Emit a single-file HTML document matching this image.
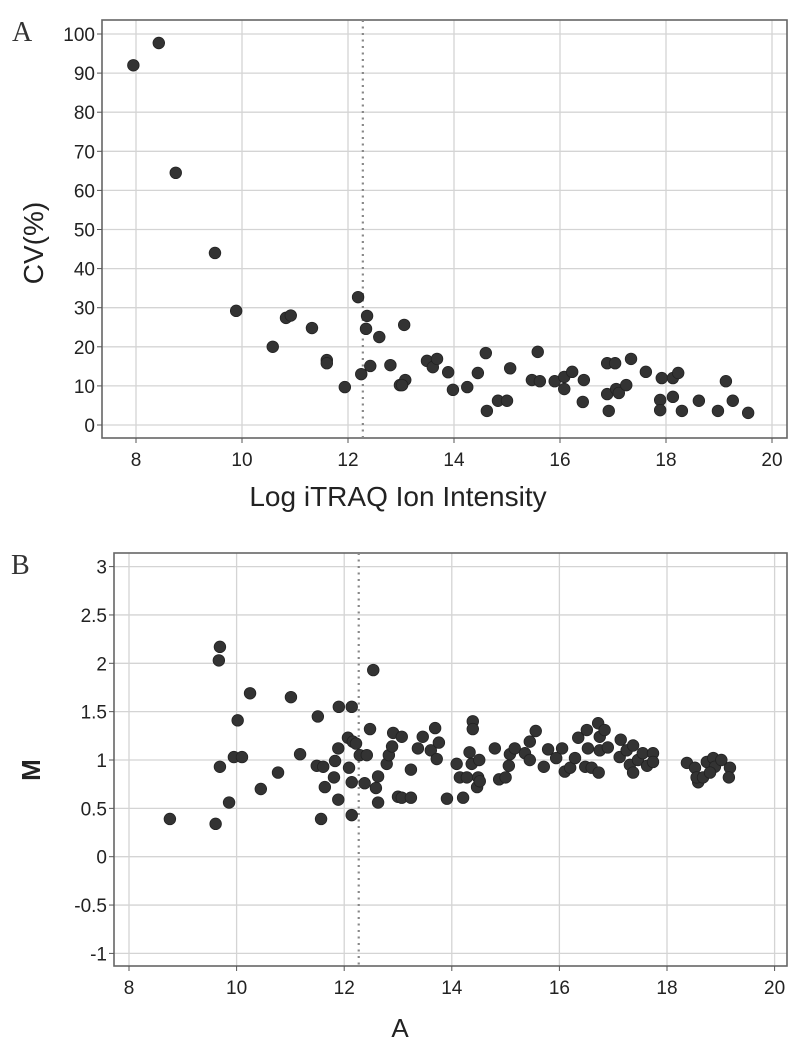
<!DOCTYPE html>
<html><head><meta charset="utf-8"><style>
html,body{margin:0;padding:0;background:#fff;}
svg{display:block;font-family:"Liberation Sans",sans-serif;}
</style></head><body>
<svg id="chart" width="800" height="1052" viewBox="0 0 800 1052"></svg>
<script>
// Panel A data
const aX = [7.95,8.43,8.75,9.49,9.89,10.58,10.83,10.92,11.32,11.6,11.6,11.94,12.19,12.25,12.36,12.34,12.42,12.59,12.8,12.98,13.06,13.08,13.02,13.49,13.6,13.68,13.89,13.98,14.25,14.45,14.6,14.62,14.83,15.0,15.06,15.47,15.58,15.62,15.9,16.08,16.08,16.23,16.45,16.43,16.89,17.04,16.89,16.92,17.06,17.11,17.25,17.34,17.62,17.92,17.89,17.89,18.13,18.13,18.23,18.3,18.62,18.98,19.13,19.26,19.55];
const aY = [92,97.7,64.5,44,29.2,20,27.4,28,24.8,16.6,15.8,9.7,32.7,13,27.9,24.6,15.1,22.5,15.3,10.2,25.6,11.5,10.2,16.4,14.8,16.9,13.5,9,9.7,13.3,18.4,3.6,6.2,6.2,14.5,11.5,18.7,11.2,11.2,12.3,9.2,13.6,11.5,5.9,15.8,15.8,7.9,3.6,9.2,8.2,10.2,16.9,13.6,12,6.4,3.8,12,7.2,13.3,3.6,6.2,3.6,11.2,6.2,3.1];
const aXTicks = [8,10,12,14,16,18,20];
const aYTicks = [0,10,20,30,40,50,60,70,80,90,100];
const aCutoff = 12.28;
// Panel B data
const bX = [8.76,9.61,9.69,9.67,9.69,9.86,9.95,10.1,10.02,10.25,10.45,10.77,11.01,11.18,11.51,11.49,11.61,11.57,11.64,11.9,12.14,11.89,11.83,11.81,11.89,12.07,12.16,12.22,12.09,12.14,12.14,12.29,12.42,12.38,12.54,12.48,12.63,12.59,12.63,12.79,12.83,12.89,12.91,13.0,13.07,13.24,13.07,13.24,13.37,13.46,13.61,13.69,13.76,13.72,13.91,14.09,14.21,14.15,14.33,14.39,14.39,14.37,14.51,14.49,14.47,14.52,14.28,14.8,14.88,15.0,15.08,15.17,15.06,15.36,15.45,15.45,15.56,15.71,15.79,15.94,16.05,16.1,16.2,16.29,16.35,16.51,16.53,16.48,16.6,16.73,16.72,16.75,16.84,16.75,16.9,17.14,17.12,17.25,17.37,17.31,17.37,17.46,17.55,17.63,17.74,17.74,18.37,18.52,18.58,18.55,18.67,18.74,18.86,18.89,19.01,19.17,19.15,18.8];
const bY = [0.39,0.34,2.17,2.03,0.93,0.56,1.03,1.03,1.41,1.69,0.70,0.87,1.65,1.06,1.45,0.94,0.93,0.39,0.72,1.55,1.55,1.12,0.99,0.82,0.59,1.23,1.19,1.17,0.92,0.77,0.43,1.05,1.05,0.76,1.93,1.32,0.83,0.71,0.56,0.96,1.05,1.14,1.28,0.62,1.24,0.9,0.61,0.61,1.12,1.24,1.1,1.33,1.18,1.01,0.6,0.96,0.61,0.82,1.08,1.4,1.32,0.96,1.0,0.82,0.72,0.78,0.82,1.12,0.8,0.82,1.06,1.12,0.94,1.07,1.0,1.19,1.3,0.93,1.11,1.02,1.12,0.88,0.92,1.02,1.23,1.31,1.12,0.93,0.92,0.87,1.38,1.24,1.31,1.1,1.13,1.21,1.03,1.1,1.15,0.95,0.87,1.0,1.07,0.94,1.07,0.98,0.97,0.92,0.77,0.82,0.82,0.98,1.02,0.93,1.0,0.92,0.82,0.87];
const bXTicks = [8,10,12,14,16,18,20];
const bYTicks = [-1,-0.5,0,0.5,1,1.5,2,2.5,3];
const bYLabels = ["-1","-0.5","0","0.5","1","1.5","2","2.5","3"];
const bCutoff = 12.27;

const NS="http://www.w3.org/2000/svg";
const svg=document.getElementById('chart');
function mk(tag,attrs,parent,text){const e=document.createElementNS(NS,tag);for(const k in attrs)e.setAttribute(k,attrs[k]);if(text!==undefined)e.textContent=text;(parent||svg).appendChild(e);return e;}

function panel(cfg){
  const g=mk('g',{});
  
  
  const sx=v=>cfg.x0px+(v-cfg.x0v)*cfg.xs;
  const sy=v=>cfg.y0px-(v-cfg.y0v)*cfg.ys;
  cfg.xt.forEach(t=>{const l=mk('line',{x1:sx(t),x2:sx(t),y1:cfg.top,y2:cfg.bot,stroke:'#d4d4d4','stroke-width':1.3},g);
    });
  cfg.yt.forEach(t=>{const l=mk('line',{x1:cfg.left,x2:cfg.right,y1:sy(t),y2:sy(t),stroke:'#d4d4d4','stroke-width':1.3},g);
    });
  const f=mk('rect',{x:cfg.left,y:cfg.top,width:cfg.right-cfg.left,height:cfg.bot-cfg.top,fill:'none',stroke:'#666','stroke-width':1.6},g);
  
  cfg.xt.forEach(t=>{mk('line',{x1:sx(t),x2:sx(t),y1:cfg.bot,y2:cfg.bot+5,stroke:'#555'},g);
    const tx=mk('text',{x:sx(t),y:cfg.bot+28,'text-anchor':'middle','font-size':19,fill:'#222'},g,String(t));
    });
  cfg.yt.forEach((t,i)=>{mk('line',{x1:cfg.left-5,x2:cfg.left,y1:sy(t),y2:sy(t),stroke:'#555'},g);
    const tx=mk('text',{x:cfg.left-7,y:sy(t)+7,'text-anchor':'end','font-size':19,fill:'#222'},g,cfg.yl?cfg.yl[i]:String(t));
    });
  const c=mk('line',{x1:sx(cfg.cut),x2:sx(cfg.cut),y1:cfg.top,y2:cfg.bot,stroke:'#888','stroke-width':2.2,'stroke-dasharray':'2 4.5'},g);
  
  cfg.xs_.forEach((v,i)=>{const p=mk('circle',{cx:sx(v),cy:sy(cfg.ys_[i]),r:5.8,fill:'#333',stroke:'#222','stroke-width':0.8},g);
    });
  return g;
}
panel({name:'panel-a',left:102,right:787,top:20,bot:438,x0px:136,x0v:8,xs:53.0,y0px:425,y0v:0,ys:3.91,
  xt:aXTicks,yt:aYTicks,cut:aCutoff,xs_:aX,ys_:aY});
panel({name:'panel-b',left:114,right:787,top:553,bot:966,x0px:129,x0v:8,xs:53.8,y0px:760,y0v:1,ys:96.7,
  xt:bXTicks,yt:bYTicks,yl:bYLabels,cut:bCutoff,xs_:bX,ys_:bY});

let t;
t=mk('text',{x:12,y:41,'font-family':'Liberation Serif, serif','font-size':28,fill:'#333'},svg,'A');

t=mk('text',{x:11,y:574,'font-family':'Liberation Serif, serif','font-size':28,fill:'#333'},svg,'B');

t=mk('text',{x:0,y:0,transform:'translate(43,243) rotate(-90)','text-anchor':'middle','font-size':28,fill:'#222'},svg,'CV(%)');

t=mk('text',{x:398,y:506,'text-anchor':'middle','font-size':28,fill:'#222'},svg,'Log iTRAQ Ion Intensity');

t=mk('text',{x:0,y:0,transform:'translate(40,770) rotate(-90)','text-anchor':'middle','font-size':26,fill:'#222','font-weight':'bold'},svg,'M');

t=mk('text',{x:400,y:1037,'text-anchor':'middle','font-size':26,fill:'#222'},svg,'A');

</script>
</body></html>
